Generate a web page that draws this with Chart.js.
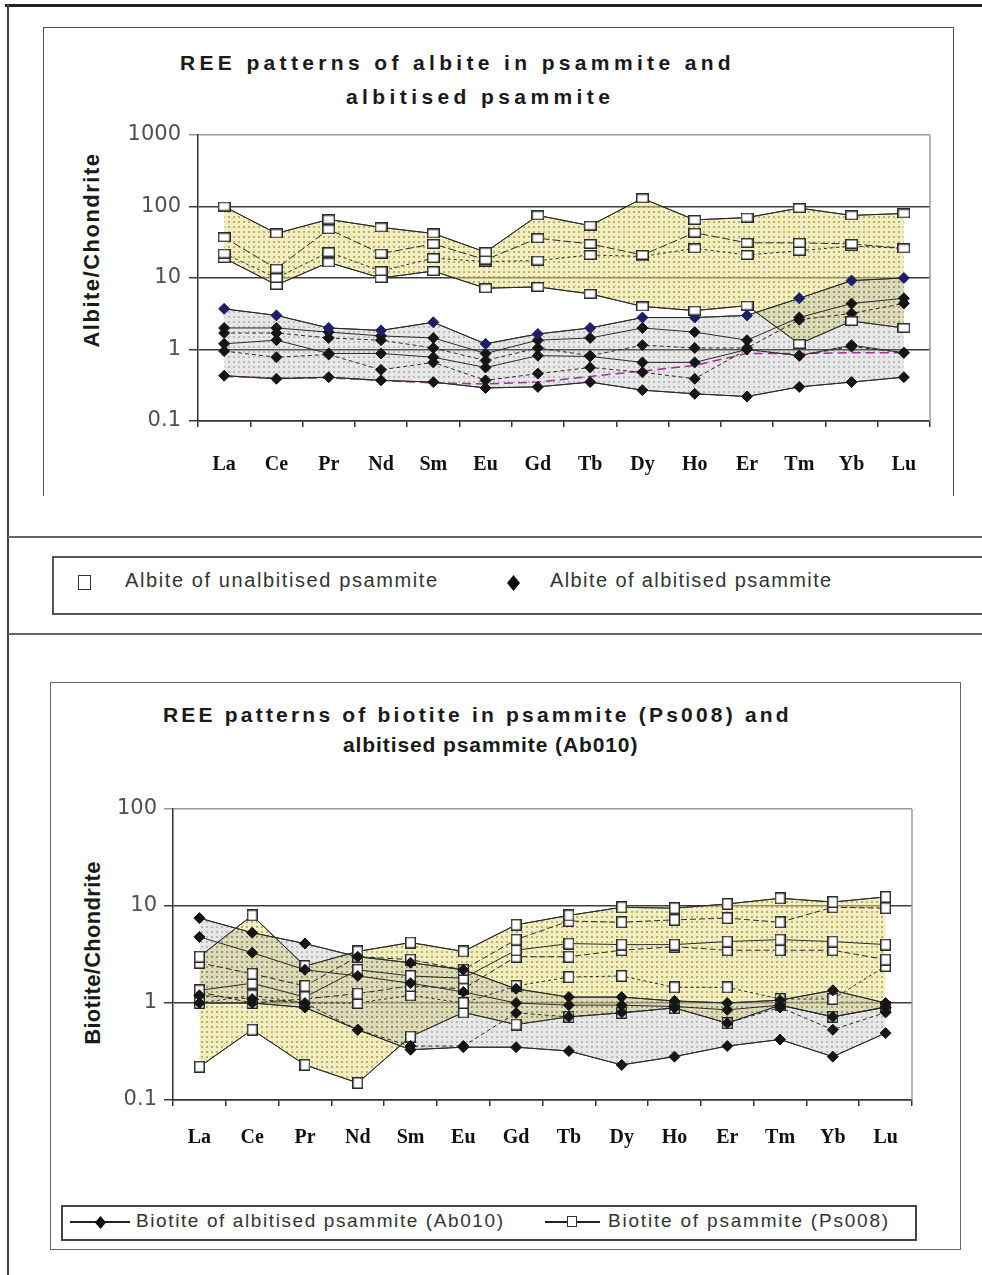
<!DOCTYPE html>
<html>
<head>
<meta charset="utf-8">
<script src="https://cdn.jsdelivr.net/npm/chart.js@4.4.1/dist/chart.umd.min.js"></script>
<style>
  html, body { margin: 0; padding: 0; background: #fff; }
  body { width: 982px; height: 1275px; position: relative; overflow: hidden;
         font-family: 'Liberation Sans', Arial, sans-serif; color: #222; }
  .abs { position: absolute; }
  .title { position: absolute; white-space: nowrap; font-weight: bold; font-size: 21px;
           line-height: 26px; color: #1a1a1a; }
  .ytitle { position: absolute; white-space: nowrap; font-weight: bold; font-size: 22px;
            color: #1a1a1a; transform: translate(-50%, -50%) rotate(-90deg); }
  .leg { position: absolute; white-space: nowrap; color: #333; }
  canvas { position: absolute; }
</style>
</head>
<body>
<!-- page frame -->
<div class="abs" style="left:5px;top:4px;width:977px;border-top:3px solid #222"></div>
<div class="abs" style="left:7px;top:4px;height:1271px;border-left:2px solid #444"></div>
<div class="abs" style="left:8px;top:536px;width:974px;border-top:2px solid #666"></div>
<div class="abs" style="left:8px;top:633px;width:974px;border-top:2px solid #666"></div>

<!-- albite panel -->
<div class="abs" style="left:43px;top:27px;width:909px;height:468px;border:1px solid #555;border-bottom:none"></div>
<div class="title" style="left:180px;top:50px;letter-spacing:4.35px">REE patterns of albite in psammite and</div>
<div class="title" style="left:346px;top:84px;letter-spacing:4.4px">albitised psammite</div>
<div class="ytitle" style="left:92px;top:250px;letter-spacing:1.5px">Albite/Chondrite</div>
<canvas id="albite" width="912" height="385" style="left:42px;top:110px"></canvas>

<!-- albite legend -->
<div class="abs" style="left:52px;top:556px;width:940px;height:55px;border:2px solid #555"></div>
<div class="abs" style="left:78px;top:575px;width:11px;height:13px;border:1.5px solid #333;background:#fff"></div>
<div class="leg" style="left:125px;top:569px;font-size:20px;letter-spacing:1.6px">Albite of unalbitised psammite</div>
<div class="abs" style="left:507px;top:575px;width:13px;height:16px;background:#111;clip-path:polygon(50% 0,100% 50%,50% 100%,0 50%)"></div>
<div class="leg" style="left:550px;top:569px;font-size:20px;letter-spacing:1.4px">Albite of albitised psammite</div>

<!-- biotite panel -->
<div class="abs" style="left:50px;top:682px;width:909px;height:566px;border:1px solid #666"></div>
<div class="title" style="left:163px;top:702px;letter-spacing:3.2px">REE patterns of biotite in psammite (Ps008) and</div>
<div class="title" style="left:343px;top:732px;letter-spacing:0.9px">albitised psammite (Ab010)</div>
<div class="ytitle" style="left:93px;top:953px;letter-spacing:0.3px">Biotite/Chondrite</div>
<canvas id="biotite" width="910" height="420" style="left:50px;top:770px"></canvas>

<!-- biotite legend -->
<div class="abs" style="left:61px;top:1205px;width:852px;height:32px;border:2px solid #444"></div>
<div class="abs" style="left:70px;top:1221px;width:60px;border-top:2px solid #222"></div>
<div class="abs" style="left:95px;top:1216px;width:11px;height:13px;background:#111;clip-path:polygon(50% 0,100% 50%,50% 100%,0 50%)"></div>
<div class="leg" style="left:136px;top:1210px;font-size:19px;letter-spacing:1.6px">Biotite of albitised psammite (Ab010)</div>
<div class="abs" style="left:545px;top:1221px;width:55px;border-top:2px solid #222"></div>
<div class="abs" style="left:567px;top:1216px;width:8px;height:9px;border:1.5px solid #333;background:#fff"></div>
<div class="leg" style="left:608px;top:1210px;font-size:19px;letter-spacing:1.8px">Biotite of psammite (Ps008)</div>

<script>
// Rare earth elements on the x axis
const elements = ['La', 'Ce', 'Pr', 'Nd', 'Sm', 'Eu', 'Gd', 'Tb', 'Dy', 'Ho', 'Er', 'Tm', 'Yb', 'Lu'];

// Albite/chondrite ratios - albite of unalbitised psammite
const albUnalb1 = [100, 42, 66, 51, 42, 23, 75, 54, 130, 65, 70, 95, 75, 80];
const albUnalb2 = [37, 13.5, 48, 22, 30, 18, 36, 30, 21, 43, 31, 31, 30, 26];
const albUnalb3 = [22, 10, 23, 12.5, 19, 17, 17.5, 21, 20, 26, 21, 24, 28, 26];
const albUnalb4 = [19, 8, 16.5, 10, 12.5, 7.2, 7.5, 6, 4, 3.5, 4.1, 1.2, 2.5, 2.0];

// Albite/chondrite ratios - albite of albitised psammite
const albAlb1 = [3.7, 3.0, 2.0, 1.85, 2.4, 1.2, 1.65, 2.0, 2.8, 2.8, 3.0, 5.2, 9.2, 10];
const albAlb2 = [2.0, 2.0, 1.75, 1.55, 1.45, 0.88, 1.35, 1.45, 2.0, 1.75, 1.35, 2.8, 4.4, 5.2];
const albAlb3 = [1.7, 1.7, 1.45, 1.35, 1.05, 0.7, 1.05, 0.82, 1.15, 1.05, 1.05, 2.6, 3.2, 4.4];
const albAlb4 = [1.2, 1.35, 0.88, 0.88, 0.78, 0.56, 0.82, 0.8, 0.66, 0.66, 1.0, 0.82, 1.15, 0.9];
const albAlb5 = [0.95, 0.78, 0.85, 0.52, 0.66, 0.37, 0.46, 0.56, 0.48, 0.39, 1.0, 0.82, 1.1, 0.9];
const albAlb6 = [0.43, 0.39, 0.41, 0.37, 0.35, 0.29, 0.30, 0.35, 0.27, 0.24, 0.22, 0.30, 0.35, 0.41];
const albAlb7 = [0.42, 0.40, 0.40, 0.37, 0.34, 0.33, 0.35, 0.42, 0.5, 0.6, 0.88, 0.88, 0.9, 0.9];

// Biotite/chondrite ratios - biotite of albitised psammite (Ab010)
const bioAb1 = [7.5, 5.3, 4.1, 3.0, 2.6, 2.2, 1.4, 1.15, 1.15, 1.05, 1.0, 1.07, 1.35, 1.0];
const bioAb2 = [4.8, 3.3, 2.2, 1.9, 1.6, 1.3, 1.0, 0.95, 0.95, 0.92, 0.85, 0.95, 0.72, 0.9];
const bioAb3 = [1.2, 1.1, 1.0, 0.53, 0.36, 0.36, 0.79, 0.72, 0.8, 0.89, 0.62, 0.9, 0.53, 0.8];
const bioAb4 = [1.0, 1.0, 0.9, 0.53, 0.33, 0.35, 0.35, 0.32, 0.23, 0.28, 0.36, 0.42, 0.28, 0.49];

// Biotite/chondrite ratios - biotite of psammite (Ps008)
const bioPs1 = [3.0, 8.0, 2.4, 3.4, 4.2, 3.4, 6.4, 8.0, 9.7, 9.5, 10.5, 12, 11, 12.4];
const bioPs2 = [2.6, 2.0, 1.5, 3.0, 2.8, 2.2, 4.5, 7.0, 6.8, 7.2, 7.5, 6.8, 9.7, 9.5];
const bioPs3 = [1.35, 1.6, 1.15, 2.2, 1.9, 1.8, 3.5, 4.1, 4.0, 4.0, 4.3, 4.5, 4.3, 4.0];
const bioPs4 = [1.3, 1.0, 1.1, 1.25, 1.5, 1.4, 3.0, 3.0, 3.5, 3.8, 3.5, 3.5, 3.5, 2.8];
const bioPs5 = [1.0, 1.2, 1.0, 1.0, 1.2, 1.0, 1.5, 1.85, 1.9, 1.45, 1.45, 1.1, 1.1, 2.4];
const bioPs6 = [0.22, 0.53, 0.23, 0.15, 0.45, 0.8, 0.6, 0.72, 0.79, 0.89, 0.62, 0.95, 0.72, 0.91];

// Log axis ticks
const albiteTicks = [0.1, 1, 10, 100, 1000];
const albiteTickLabels = ['0.1', '1', '10', '100', '1000'];
const biotiteTicks = [0.1, 1, 10, 100];
const biotiteTickLabels = ['0.1', '1', '10', '100'];

// ---- drawing helpers ----
function dotPattern(bg, dot, step) {
  const c = document.createElement('canvas');
  c.width = c.height = step;
  const g = c.getContext('2d');
  g.fillStyle = bg; g.fillRect(0, 0, step, step);
  g.fillStyle = dot; g.fillRect(1, 1, 2, 2);
  return g.createPattern(c, 'repeat');
}
function squareMarker(w, h) {
  const c = document.createElement('canvas');
  c.width = w; c.height = h;
  const g = c.getContext('2d');
  g.fillStyle = '#fff'; g.fillRect(0, 0, w, h);
  g.strokeStyle = '#2b2b2b'; g.lineWidth = 1.5;
  g.strokeRect(0.75, 0.75, w - 1.5, h - 1.5);
  return c;
}
function envelope(list) {
  const hi = [], lo = [];
  elements.forEach((_, i) => {
    const col = list.map(s => s[i]);
    hi.push(Math.max(...col)); lo.push(Math.min(...col));
  });
  return { hi, lo };
}
function series(data, marker, extra) {
  return Object.assign({
    data, borderColor: '#2a2a2a', borderWidth: 1, tension: 0, fill: false,
    pointStyle: marker, pointRadius: 5.5, pointHoverRadius: 5.5,
    pointBackgroundColor: '#151515', pointBorderColor: '#151515', pointBorderWidth: 1
  }, extra || {});
}
function band(env, pattern) {
  return [
    { data: env.lo, borderColor: '#333', borderWidth: 1, pointRadius: 0, fill: false, tension: 0 },
    { data: env.hi, borderColor: '#333', borderWidth: 1, pointRadius: 0, fill: '-1',
      backgroundColor: pattern, tension: 0 }
  ];
}

const yellowFill = dotPattern('rgba(232,224,140,0.55)', 'rgba(135,125,40,0.55)', 5);
const greyFill = dotPattern('rgba(160,160,160,0.25)', 'rgba(100,100,100,0.35)', 5);

// right edge of the plot frame
const frameEdge = {
  id: 'frameEdge',
  afterDraw(c) {
    const { ctx, chartArea: a } = c;
    ctx.save();
    ctx.strokeStyle = '#9a9a9a'; ctx.lineWidth = 1.5;
    ctx.beginPath(); ctx.moveTo(a.right, a.top); ctx.lineTo(a.right, a.bottom); ctx.stroke();
    ctx.restore();
  }
};

function makeChart(id, datasets, ticks, tickLabels, geom) {
  const top = ticks[ticks.length - 1];
  return new Chart(document.getElementById(id), {
    type: 'line',
    data: { labels: elements, datasets },
    plugins: [frameEdge],
    options: {
      responsive: false, animation: false, events: [],
      layout: { padding: { top: geom.padTop, right: geom.padRight, left: 0, bottom: 0 } },
      plugins: { legend: { display: false }, tooltip: { enabled: false },
                 filler: { drawTime: 'beforeDatasetDraw' } },
      scales: {
        x: {
          type: 'category', offset: true,
          afterFit: s => { s.height = geom.xHeight; },
          grid: { offset: true, drawOnChartArea: false, drawTicks: true, tickLength: 6, color: '#333', lineWidth: 1.5 },
          border: { color: '#333', width: 1.5 },
          ticks: { font: { family: 'Liberation Serif', weight: 'bold', size: 20 }, color: '#111',
                   padding: geom.xPad, maxRotation: 0, autoSkip: false }
        },
        y: {
          type: 'logarithmic', min: ticks[0], max: top, z: 1,
          afterFit: s => { s.width = geom.yWidth; },
          afterBuildTicks: s => { s.ticks = ticks.map(v => ({ value: v })); },
          grid: { color: c => (c.tick && c.tick.value === top) ? '#9a9a9a' : '#3c3c3c',
                  lineWidth: 1.5, drawTicks: true, tickLength: 9 },
          border: { color: '#333', width: 1.5 },
          ticks: { font: { family: 'DejaVu Sans', size: 21 }, color: '#505050', padding: geom.yPad,
                   callback: v => { const i = ticks.indexOf(v); return i >= 0 ? tickLabels[i] : ''; } }
        }
      }
    }
  });
}

// ---- albite panel ----
const sqAlb = squareMarker(13, 10);
const albDatasets = [
  series(albUnalb1, sqAlb),
  series(albUnalb2, sqAlb, { borderDash: [8, 3] }),
  series(albUnalb3, sqAlb, { borderDash: [3, 3] }),
  series(albUnalb4, sqAlb),
  series(albAlb1, 'rectRot', { pointBackgroundColor: '#1d1d6a', pointBorderColor: '#1d1d6a' }),
  series(albAlb2, 'rectRot'),
  series(albAlb3, 'rectRot', { borderDash: [4, 3] }),
  series(albAlb4, 'rectRot'),
  series(albAlb5, 'rectRot', { borderDash: [4, 3] }),
  series(albAlb6, 'rectRot'),
  series(albAlb7, false, { borderColor: '#a0309a', borderWidth: 1.5, borderDash: [9, 5], pointRadius: 0 }),
  ...band(envelope([albAlb1, albAlb2, albAlb3, albAlb4, albAlb5, albAlb6]), greyFill),
  ...band(envelope([albUnalb1, albUnalb2, albUnalb3, albUnalb4]), yellowFill)
];
makeChart('albite', albDatasets, albiteTicks, albiteTickLabels,
  { padTop: 25, padRight: 24, xHeight: 74, yWidth: 156, xPad: 26, yPad: 8 });

// ---- biotite panel ----
const sqBio = squareMarker(11, 12);
const bioDatasets = [
  series(bioAb1, 'rectRot'),
  series(bioAb2, 'rectRot'),
  series(bioAb3, 'rectRot', { borderDash: [4, 3] }),
  series(bioAb4, 'rectRot'),
  series(bioPs1, sqBio),
  series(bioPs2, sqBio, { borderDash: [6, 3] }),
  series(bioPs3, sqBio),
  series(bioPs4, sqBio, { borderDash: [6, 3] }),
  series(bioPs5, sqBio, { borderDash: [3, 3] }),
  series(bioPs6, sqBio),
  ...band(envelope([bioAb1, bioAb2, bioAb3, bioAb4]), greyFill),
  ...band(envelope([bioPs1, bioPs2, bioPs3, bioPs4, bioPs5, bioPs6]), yellowFill)
];
makeChart('biotite', bioDatasets, biotiteTicks, biotiteTickLabels,
  { padTop: 39, padRight: 48, xHeight: 90, yWidth: 123, xPad: 20, yPad: 7 });
</script>
</body>
</html>
